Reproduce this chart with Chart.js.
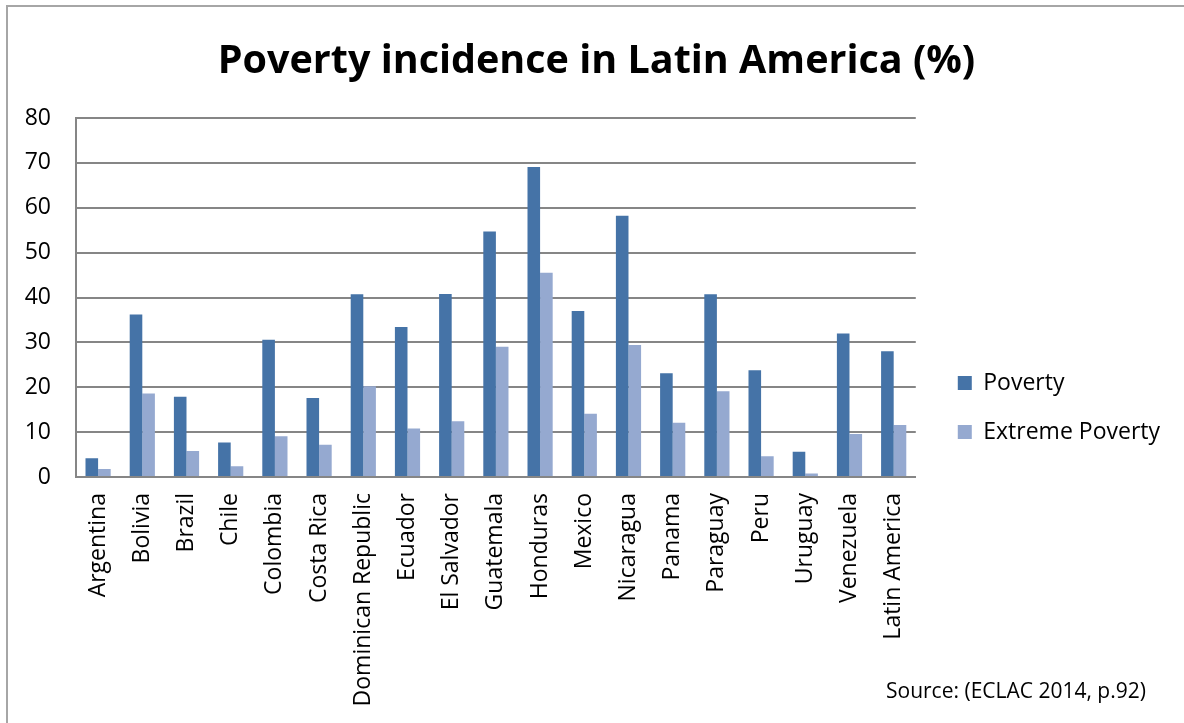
<!DOCTYPE html>
<html>
<head>
<meta charset="utf-8">
<script src="https://cdn.jsdelivr.net/npm/chart.js@4"></script>
<style>
  html, body { margin: 0; padding: 0; background: #fff; }
  #wrap { position: relative; width: 1184px; height: 723px; overflow: hidden; }
  #frame { position: absolute; left: 6px; top: 5px; width: 1190px; height: 740px; border: 2px solid #a6a6a6; box-sizing: border-box; pointer-events: none; }
  #c { position: absolute; left: 0; top: 0; }
  #source { position: absolute; left: 886px; top: 676px; font-family: "Open Sans", sans-serif; font-size: 21px; color: #000; white-space: nowrap; }
</style>
</head>
<body>
<div id="wrap">
  <canvas id="c" width="1184" height="723"></canvas>
  <div id="frame"></div>
  <div id="source">Source: (ECLAC 2014, p.92)</div>
</div>
<script>
const categories = ["Argentina", "Bolivia", "Brazil", "Chile", "Colombia", "Costa Rica", "Dominican Republic", "Ecuador", "El Salvador", "Guatemala", "Honduras", "Mexico", "Nicaragua", "Panama", "Paraguay", "Peru", "Uruguay", "Venezuela", "Latin America"];
const poverty = [4.2, 36.2, 17.9, 7.7, 30.6, 17.6, 40.7, 33.4, 40.8, 54.7, 69.1, 37.0, 58.2, 23.1, 40.7, 23.8, 5.6, 32.0, 28.0];
const extremePoverty = [1.8, 18.6, 5.8, 2.4, 9.1, 7.2, 20.2, 10.8, 12.4, 29.0, 45.5, 14.1, 29.4, 12.1, 19.1, 4.6, 0.8, 9.6, 11.6];
const seriesNames = ["Poverty", "Extreme Poverty"];
const titleText = "Poverty incidence in Latin America (%)";

const FONT = "'Open Sans', sans-serif";

new Chart(document.getElementById('c'), {
  type: 'bar',
  data: {
    labels: categories,
    datasets: [
      { label: seriesNames[0], data: poverty, backgroundColor: '#4573A7', borderWidth: 0 },
      { label: seriesNames[1], data: extremePoverty, backgroundColor: '#95A9D0', borderWidth: 0 }
    ]
  },
  options: {
    responsive: false,
    animation: false,
    layout: { padding: { left: 23, right: 14, top: 0, bottom: 0 } },
    datasets: { bar: { categoryPercentage: 0.57, barPercentage: 1.0 } },
    plugins: {
      title: {
        display: true,
        text: titleText,
        color: '#000',
        font: { family: FONT, size: 39.5, weight: 'bold' },
        padding: { top: 38, bottom: 32.6 }
      },
      legend: {
        position: 'right',
        align: 'center',
        title: { display: true, text: '', font: { size: 10 }, padding: { top: 80, bottom: 0 } },
        labels: {
          color: '#000',
          font: { family: FONT, size: 23 },
          boxWidth: 14,
          boxHeight: 14,
          padding: 26
        }
      },
      tooltip: { enabled: false }
    },
    scales: {
      x: {
        grid: { display: false, drawTicks: false },
        border: { display: true, color: '#868686', width: 2 },
        ticks: {
          color: '#000',
          font: { family: FONT, size: 23 },
          minRotation: 90,
          maxRotation: 90,
          autoSkip: false,
          padding: 16
        },
        afterFit: function (scale) { scale.height = 246; }
      },
      y: {
        min: 0,
        max: 80,
        grid: { color: '#868686', lineWidth: 2, drawTicks: false },
        border: { display: true, color: '#868686', width: 2 },
        ticks: {
          stepSize: 10,
          color: '#000',
          font: { family: FONT, size: 23 },
          padding: 25
        },
        afterFit: function (scale) { scale.width = 53; }
      },
      gap: {
        type: 'linear',
        position: 'right',
        display: false,
        afterFit: function (scale) { scale.width = 16; }
      }
    }
  }
});
</script>
</body>
</html>
